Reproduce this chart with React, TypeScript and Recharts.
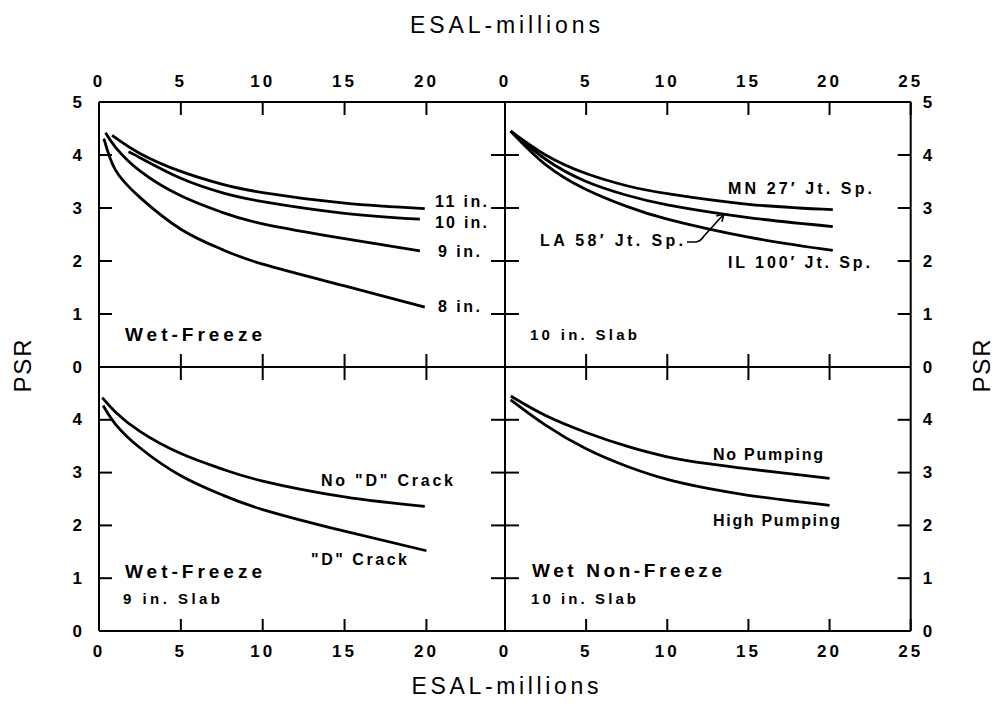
import { LineChart, Line, XAxis, YAxis } from "recharts";

const W = 996;
const H = 716;
const FONT = "'Liberation Sans', Arial, Helvetica, sans-serif";

// ESAL (millions) against PSR, one x/y pair per curve

// Wet-Freeze, by slab thickness
const WF_8_X = [0.3, 1, 2.5, 5, 7.5, 10, 15, 19.9];
const WF_8_Y = [4.31, 3.72, 3.2, 2.6, 2.22, 1.94, 1.53, 1.13];
const WF_9_X = [0.4, 1, 2.5, 5, 7.5, 10, 15, 19.6];
const WF_9_Y = [4.42, 4.15, 3.7, 3.23, 2.92, 2.7, 2.42, 2.19];
const WF_10_X = [1.8, 2.5, 5, 7.5, 10, 15, 19.6];
const WF_10_Y = [4.06, 3.95, 3.56, 3.29, 3.12, 2.9, 2.79];
const WF_11_X = [0.8, 2.5, 5, 7.5, 10, 15, 19.9];
const WF_11_Y = [4.37, 4.03, 3.69, 3.45, 3.29, 3.09, 2.99];

// 10 in. slab, by joint spacing
const JT_X = [0.35, 2.5, 5, 7.5, 10, 15, 20.2];
const JT_MN_Y = [4.45, 4.0, 3.65, 3.42, 3.27, 3.07, 2.97];
const JT_LA_Y = [4.45, 3.92, 3.5, 3.24, 3.06, 2.82, 2.65];
const JT_IL_Y = [4.45, 3.82, 3.35, 3.03, 2.79, 2.45, 2.2];

// Wet-Freeze, 9 in. slab, "D" cracking
const DC_NO_X = [0.2, 1, 2.5, 5, 7.5, 10, 15, 19.9];
const DC_NO_Y = [4.42, 4.15, 3.78, 3.36, 3.07, 2.84, 2.54, 2.36];
const DC_YES_X = [0.25, 1, 2.5, 5, 7.5, 10, 15, 20];
const DC_YES_Y = [4.27, 3.92, 3.47, 2.94, 2.58, 2.3, 1.89, 1.52];

// Wet Non-Freeze, 10 in. slab, pumping
const PM_X = [0.35, 2.5, 5, 7.5, 10, 12.5, 15, 17.5, 20];
const PM_NO_Y = [4.45, 4.08, 3.76, 3.5, 3.3, 3.17, 3.07, 2.98, 2.89];
const PM_HIGH_Y = [4.38, 3.9, 3.45, 3.12, 2.87, 2.7, 2.57, 2.47, 2.38];

const X_TICKS_LEFT = [0, 5, 10, 15, 20];
const X_TICKS_RIGHT = [0, 5, 10, 15, 20, 25];
const X_TICKS_INNER = [5, 10, 15, 20];
const Y_TICKS_TOP = [0, 1, 2, 3, 4, 5];
const Y_TICKS_BOTTOM = [0, 1, 2, 3, 4];
const Y_TICKS_INNER = [1, 2, 3, 4];

type Pt = { x: number; y: number };
const zip = (xs: number[], ys: number[]): Pt[] => xs.map((x, i) => ({ x, y: ys[i] }));

const AXIS = { stroke: "#000", strokeWidth: 2 };

type Side = "top" | "bottom" | "left" | "right";

// ticks point into the plot box; the number (if any) sits outside it
const tickMark = (side: Side, len: number, label: boolean) => (props: any) => {
  const { x, y, payload } = props;
  const dx = side === "left" ? len : side === "right" ? -len : 0;
  const dy = side === "top" ? len : side === "bottom" ? -len : 0;
  let tx = x;
  let ty = y;
  let anchor: "start" | "middle" | "end" = "middle";
  let baseline: "central" | "auto" = "auto";
  if (side === "left") { tx = x - 14; anchor = "end"; baseline = "central"; }
  if (side === "right") { tx = x + 12; anchor = "start"; baseline = "central"; }
  if (side === "top") ty = y - 15;
  if (side === "bottom") ty = y + 26;
  return (
    <g>
      <line x1={x} y1={y} x2={x + dx} y2={y + dy} stroke="#000" strokeWidth={2} />
      {label && (
        <text
          x={tx}
          y={ty}
          textAnchor={anchor}
          dominantBaseline={baseline}
          fill="#000"
          fontSize={17}
          fontWeight={700}
          fontFamily={FONT}
          letterSpacing={3}
        >
          {payload.value}
        </text>
      )}
    </g>
  );
};

type PanelProps = {
  row: "top" | "bottom";
  col: "left" | "right";
  curves: Pt[][];
};

// each panel is a full-page chart; the margins place its plot box in the 2x2 grid
// (every axis is 1px thick, so each margin is one less than the box edge)
function Panel({ row, col, curves }: PanelProps) {
  const top = row === "top";
  const left = col === "left";
  const margin = {
    top: (top ? 102 : 367) - 1,
    bottom: (top ? H - 367 : H - 631) - 1,
    left: (left ? 99 : 505) - 1,
    right: (left ? W - 505 : W - 910.7) - 1,
  };
  const xMax = left ? 24.8 : 25;
  const common = {
    type: "number" as const,
    interval: 0 as const,
    allowDataOverflow: true,
    tickSize: 0,
    tickMargin: 0,
    axisLine: AXIS,
    tickLine: false,
  };
  return (
    <div style={{ position: "absolute", left: 0, top: 0 }}>
      <LineChart width={W} height={H} margin={margin}>
        <XAxis
          {...common}
          xAxisId="o"
          orientation={top ? "top" : "bottom"}
          dataKey="x"
          domain={[0, xMax]}
          ticks={left ? X_TICKS_LEFT : X_TICKS_RIGHT}
          height={1}
          tick={tickMark(top ? "top" : "bottom", top ? 13 : 12, true)}
        />
        <XAxis
          {...common}
          xAxisId="i"
          orientation={top ? "bottom" : "top"}
          dataKey="x"
          domain={[0, xMax]}
          ticks={X_TICKS_INNER}
          height={1}
          tick={tickMark(top ? "bottom" : "top", 13, false)}
        />
        <YAxis
          {...common}
          yAxisId="o"
          orientation={left ? "left" : "right"}
          domain={[0, 5]}
          ticks={top ? Y_TICKS_TOP : Y_TICKS_BOTTOM}
          width={1}
          tick={tickMark(left ? "left" : "right", 13, true)}
        />
        <YAxis
          {...common}
          yAxisId="i"
          orientation={left ? "right" : "left"}
          domain={[0, 5]}
          ticks={Y_TICKS_INNER}
          width={1}
          tick={tickMark(left ? "right" : "left", 14, false)}
        />
        {curves.map((c, i) => (
          <Line
            key={i}
            xAxisId="o"
            yAxisId="o"
            data={c}
            dataKey="y"
            type="natural"
            stroke="#000"
            strokeWidth={2.8}
            dot={false}
            isAnimationActive={false}
          />
        ))}
      </LineChart>
    </div>
  );
}

function Note({ x, y, size, len, children }: {
  x: number; y: number; size: number; len: number; children: string;
}) {
  return (
    <text x={x} y={y} fontSize={size} fontWeight={700} textLength={len} lengthAdjust="spacing">
      {children}
    </text>
  );
}

export default function App() {
  return (
    <div style={{ position: "absolute", left: 0, top: 0, width: W, height: H, background: "#fff" }}>
      <Panel
        row="top"
        col="left"
        curves={[zip(WF_11_X, WF_11_Y), zip(WF_10_X, WF_10_Y), zip(WF_9_X, WF_9_Y), zip(WF_8_X, WF_8_Y)]}
      />
      <Panel
        row="top"
        col="right"
        curves={[zip(JT_X, JT_MN_Y), zip(JT_X, JT_LA_Y), zip(JT_X, JT_IL_Y)]}
      />
      <Panel row="bottom" col="left" curves={[zip(DC_NO_X, DC_NO_Y), zip(DC_YES_X, DC_YES_Y)]} />
      <Panel row="bottom" col="right" curves={[zip(PM_X, PM_NO_Y), zip(PM_X, PM_HIGH_Y)]} />

      <svg
        width={W}
        height={H}
        style={{ position: "absolute", left: 0, top: 0, pointerEvents: "none" }}
        fontFamily={FONT}
        fill="#000"
      >
        <text x={505} y={33} fontSize={23} textAnchor="middle" textLength={190} lengthAdjust="spacing">
          ESAL-millions
        </text>
        <text x={505} y={694} fontSize={23} textAnchor="middle" textLength={187} lengthAdjust="spacing">
          ESAL-millions
        </text>
        <text
          transform="translate(22,366) rotate(-90)"
          fontSize={24}
          textAnchor="middle"
          dominantBaseline="central"
          textLength={53}
          lengthAdjust="spacing"
        >
          PSR
        </text>
        <text
          transform="translate(981,366) rotate(-90)"
          fontSize={24}
          textAnchor="middle"
          dominantBaseline="central"
          textLength={53}
          lengthAdjust="spacing"
        >
          PSR
        </text>

        {/* Wet-Freeze, slab thickness */}
        <Note x={435} y={206.5} size={16} len={52}>11 in.</Note>
        <Note x={435} y={228} size={16} len={52}>10 in.</Note>
        <Note x={438} y={256.5} size={16} len={42}>9 in.</Note>
        <Note x={438} y={311.5} size={16} len={42}>8 in.</Note>
        <Note x={125} y={340.5} size={19} len={137}>Wet-Freeze</Note>

        {/* joint spacing */}
        <Note x={728} y={193.5} size={16} len={144}>MN 27′ Jt. Sp.</Note>
        <Note x={540} y={246} size={16} len={143}>LA 58′ Jt. Sp.</Note>
        <Note x={728} y={268} size={16} len={142}>IL 100′ Jt. Sp.</Note>
        <Note x={530} y={340} size={15} len={107}>10 in. Slab</Note>
        <path
          d="M 687 242 L 696 242 Q 701 241 704 236 L 724 214 M 716.3 216.1 L 724 214 L 721.9 221.7"
          fill="none"
          stroke="#000"
          strokeWidth={1.6}
        />

        {/* "D" cracking */}
        <Note x={321} y={486} size={16} len={132}>No "D" Crack</Note>
        <Note x={311} y={565} size={16} len={96}>"D" Crack</Note>
        <Note x={125} y={578} size={19} len={137}>Wet-Freeze</Note>
        <Note x={123} y={604} size={15} len={97}>9 in. Slab</Note>

        {/* pumping */}
        <Note x={713} y={460} size={16} len={110}>No Pumping</Note>
        <Note x={713} y={526} size={16} len={127}>High Pumping</Note>
        <Note x={532} y={576.5} size={19} len={190}>Wet Non-Freeze</Note>
        <Note x={531} y={604} size={15} len={105}>10 in. Slab</Note>
      </svg>
    </div>
  );
}
